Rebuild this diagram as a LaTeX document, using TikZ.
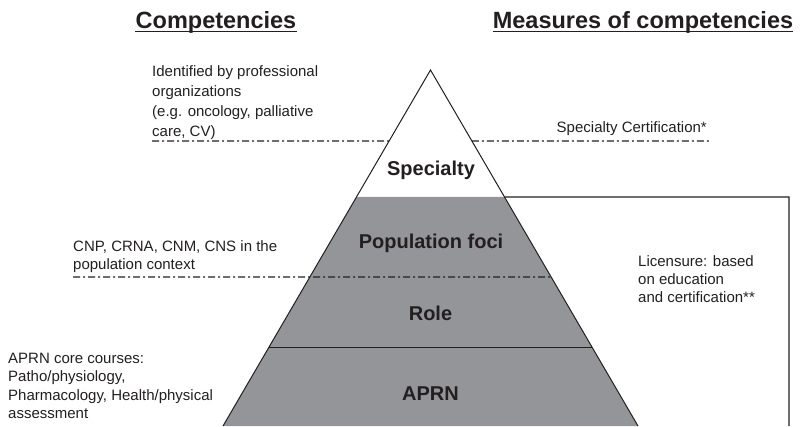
\documentclass[tikz,border=0pt]{standalone}
\usepackage{fontspec}
\setmainfont{Liberation Sans}
\usetikzlibrary{calc}
\definecolor{pyrgray}{RGB}{148,149,153}
\definecolor{ink}{RGB}{35,31,32}

\begin{document}
\begin{tikzpicture}[x=1pt,y=-1pt]
        \tikzstyle{every node} = [inner sep=0pt,text=ink]
        \tikzstyle{note} = [font=\fontsize{15}{18.3}\selectfont,align=left]
        \tikzstyle{layer} = [font=\fontsize{20}{24}\selectfont\bfseries]
        \tikzstyle{heading} = [font=\fontsize{23.5}{28}\selectfont\bfseries]
        \tikzstyle{dashdot} = [draw=ink,line width=1.3pt,dash pattern=on 7pt off 3pt on 2pt off 3pt]
        \useasboundingbox (0,0) rectangle (803,426);

            % pyramid corners and the levels on its sides
            \coordinate (top) at (430.5,70);
            \coordinate (bl) at (223,426);
            \coordinate (br) at (638,426);
            \foreach \n/\t in {cert/0.1994,spec/0.3567,pop/0.5815,role/0.7781}{
                \coordinate (\n L) at ($(top)!\t!(bl)$);
                \coordinate (\n R) at ($(top)!\t!(br)$);
            }

               \fill[pyrgray] (specL) -- (specR) -- (br) -- (bl) -- cycle;
               \draw[ink,line width=1pt] (bl) -- (top) -- (br);
               \draw[ink,line width=0.9pt] (roleL) -- (roleR);

               % licensure box
               \coordinate (boxcorner) at (789,197);
               \coordinate (boxfoot) at (789,426);
               \draw[ink,line width=1.1pt] (specR) -- (boxcorner) -- (boxfoot);

               % dash-dot level lines
               \coordinate (certstart) at (152,141);
               \coordinate (certend) at (710,141);
               \coordinate (popstart) at (73,277);
               \draw[dashdot] (certstart) -- (certL);
               \draw[dashdot] (certR) -- (certend);
               \draw[dashdot] (popstart) -- (popR);

               % headings
               \node[heading,anchor=base] (comp) at (216,28) {Competencies};
               \node[heading,anchor=base] (meas) at (643,28) {Measures of competencies};
               \draw[ink,line width=1.2pt] ([yshift=-3.8pt]comp.base west) -- ([yshift=-3.8pt]comp.base east);
               \draw[ink,line width=1.2pt] ([yshift=-3.8pt]meas.base west) -- ([yshift=-3.8pt]meas.base east);

               % levels
               \node[layer,anchor=base] (specialty) at (431,175) {Specialty};
               \node[layer,anchor=base] (popfoci) at (431,248) {Population foci};
               \node[layer,anchor=base] (role) at (430.5,320) {Role};
               \node[layer,anchor=base] (aprn) at (430.5,400) {APRN};

               % notes
               \node[note,font=\fontsize{15}{20}\selectfont,anchor=north west] (ident) at (152,65)
                   {Identified by professional\\organizations\\(e.g. oncology, palliative\\care, CV)};
               \node[note,anchor=base east] (speccert) at (707,132) {Specialty Certification*};
               \node[note,anchor=north west] (cnp) at (73,240.5)
                   {CNP, CRNA, CNM, CNS in the\\population context};
               \node[note,anchor=north west] (licen) at (638,255)
                   {Licensure: based\\on education\\and certification**};
               \node[note,anchor=north west] (core) at (8,353)
                   {APRN core courses:\\Patho/physiology,\\Pharmacology, Health/physical\\assessment};
\end{tikzpicture}
\end{document}
